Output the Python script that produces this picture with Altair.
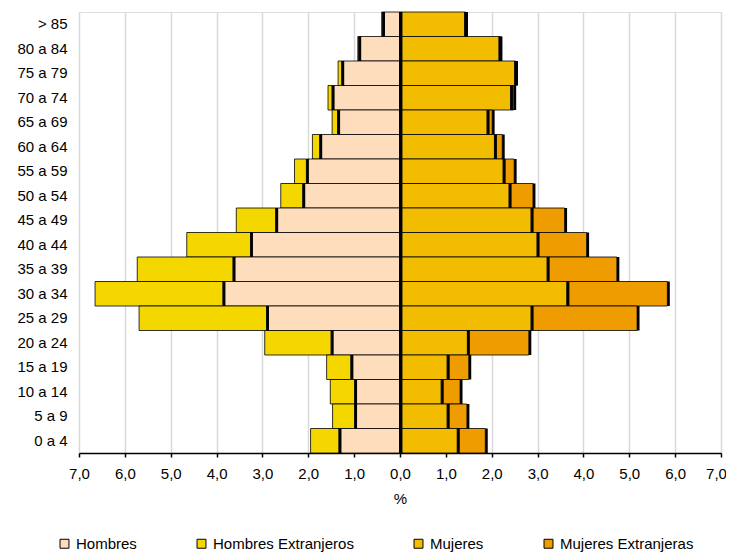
import altair as alt
import pandas as pd

ages = ["> 85", "80 a 84", "75 a 79", "70 a 74", "65 a 69", "60 a 64", "55 a 59",
        "50 a 54", "45 a 49", "40 a 44", "35 a 39", "30 a 34", "25 a 29", "20 a 24",
        "15 a 19", "10 a 14", "5 a 9", "0 a 4"]
hombres = [0.38, 0.90, 1.27, 1.48, 1.36, 1.75, 2.04, 2.12, 2.71, 3.26, 3.64, 3.86,
           2.91, 1.50, 1.07, 0.99, 0.99, 1.33]
hombres_ext = [0.02, 0.02, 0.08, 0.09, 0.12, 0.16, 0.26, 0.48, 0.86, 1.39, 2.09, 2.79,
               2.78, 1.45, 0.53, 0.53, 0.48, 0.62]
mujeres = [1.41, 2.16, 2.50, 2.41, 1.90, 2.06, 2.25, 2.38, 2.86, 2.99, 3.21, 3.64,
           2.86, 1.47, 1.03, 0.90, 1.03, 1.25]
mujeres_ext = [0.02, 0.02, 0.02, 0.07, 0.11, 0.17, 0.24, 0.52, 0.73, 1.08, 1.52, 2.19,
               2.31, 1.34, 0.47, 0.41, 0.43, 0.61]

series = ["Hombres", "Hombres Extranjeros", "Mujeres", "Mujeres Extranjeras"]
colors = ["#FDDDBB", "#F5D700", "#F2BC00", "#EE9C00"]

rows = []
for i, a in enumerate(ages):
    h, he, m, me = hombres[i], hombres_ext[i], mujeres[i], mujeres_ext[i]
    rows.append({"age": a, "series": series[1], "start": -(h + he), "end": -h})
    rows.append({"age": a, "series": series[0], "start": -h, "end": 0.0})
    rows.append({"age": a, "series": series[2], "start": 0.0, "end": m})
    rows.append({"age": a, "series": series[3], "start": m, "end": m + me})
df = pd.DataFrame(rows)

font = "Liberation Sans"

yenc = alt.Y("age:N", sort=ages,
             scale=alt.Scale(paddingInner=0, paddingOuter=0),
             axis=alt.Axis(title=None, labelFontSize=15, labelPadding=12, ticks=False,
                           domain=False, grid=False, labelColor="black", labelFont=font))

xscale = alt.Scale(domain=[-7, 7], nice=False, zero=False)

base = alt.Chart(df)

bars = base.mark_bar(stroke="black", strokeWidth=0.8).encode(
    y=yenc,
    x=alt.X("start:Q", scale=xscale,
            axis=alt.Axis(values=list(range(-7, 8)),
                          labelExpr="replace(format(abs(datum.value), '.1f'), '.', ',')",
                          labelFlush=False, labelOverlap=False,
                          labelOffset={"condition": {"test": "datum.value == 7", "value": -5},
                                       "value": 0},
                          title="%", titleFontWeight="normal", titleFontSize=15,
                          titleFont=font, titlePadding=10, titleColor="black",
                          labelFontSize=15, labelFont=font, labelColor="black",
                          labelPadding=9, tickSize=4, tickColor="black", tickWidth=1.5,
                          domainColor="black", domainWidth=1.5,
                          grid=True, gridColor="#d9d9d9", gridWidth=1.5)),
    x2="end:Q",
    color=alt.Color("series:N", scale=alt.Scale(domain=series, range=colors),
                    legend=alt.Legend(title=None, orient="none", legendX=-22, legendY=524,
                                      direction="horizontal", columnPadding=57,
                                      symbolType="square", symbolSize=80,
                                      symbolStrokeColor="black", symbolStrokeWidth=1,
                                      labelFontSize=15, labelFont=font, labelColor="black",
                                      labelOffset=4)),
)

shadow = base.mark_tick(color="black", thickness=2.5, size=24.5, xOffset=1.2, opacity=1).encode(
    x=alt.X("end:Q", scale=xscale),
    y=alt.Y("age:N", sort=ages),
)

zero = alt.Chart(pd.DataFrame({"z": [0.0]})).mark_rule(color="black", strokeWidth=2).encode(
    x=alt.X("z:Q", scale=xscale)
)

chart = alt.layer(bars, shadow, zero).properties(
    width=642, height=441,
    autosize=alt.AutoSizeParams(type="none"),
    padding={"left": 71, "top": 4, "right": 5, "bottom": 101},
).configure_view(stroke="#b4b4b4", strokeWidth=1.5).configure(background="white")

chart.save("out.html", embed_options={"renderer": "svg", "actions": False})
